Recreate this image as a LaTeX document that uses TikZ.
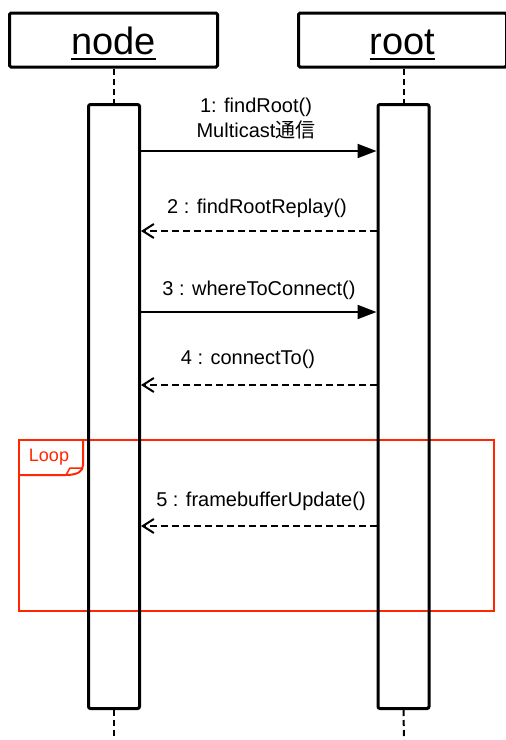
\documentclass[tikz,border=0pt]{standalone}
\usepackage{fontspec}
\setmainfont{Liberation Sans}
\newfontfamily\cjk{Noto Sans CJK JP}
\usetikzlibrary{arrows.meta}
\definecolor{loopred}{RGB}{255,38,0}
\tikzset{
  headbox/.style={draw, line width=3pt, rounded corners=1.5pt, minimum width=208pt, minimum height=54pt, inner sep=0pt},
  headtxt/.style={inner sep=0pt, font=\fontsize{38}{40}\selectfont, anchor=base},
  actbox/.style={draw, line width=3pt, rounded corners=2pt, minimum width=51pt, minimum height=604pt, inner sep=0pt},
  lifeline/.style={line width=2pt, dash pattern=on 6pt off 4pt},
  callmsg/.style={line width=2pt, -{Triangle[length=19pt,width=14pt]}},
  retmsg/.style={line width=2pt, dash pattern=on 7pt off 4pt, -{Straight Barb[length=11pt,width=14pt]}},
  lbl/.style={inner sep=0pt, font=\fontsize{20}{25}\selectfont, align=center},
  loopframe/.style={draw=loopred, line width=2pt},
}
\begin{document}
\begin{tikzpicture}[x=1pt,y=-1pt]
\useasboundingbox (0,0) rectangle (506,740);
% loop frame (behind the lifelines)
\node[loopframe, minimum width=475pt, minimum height=171pt, inner sep=0pt] (loopbox) at (256.5,525.5) {};
\coordinate (tabtr) at (83,440);
\coordinate (tabbl) at (19,475);
\draw[loopframe, line join=round] (tabtr) -- (83,465) .. controls (83,471) and (78,475) .. (66,475) -- (tabbl);
\draw[loopframe, line width=1.5pt, line join=round] (66,475) -- (70,468) -- (83,468);
\node[inner sep=0pt, text=loopred, font=\fontsize{18}{20}\selectfont] (looplbl) at (49,457) {Loop};
% headers
\node[headbox] (nodehead) at (113.5,40) {};
\node[headbox] (roothead) at (402.5,40) {};
\node[headtxt] (nodetxt) at (113.5,54) {node};
\node[headtxt] (roottxt) at (402.5,54) {root};
\draw[line width=2pt] ([yshift=-5pt]nodetxt.base west) -- ([yshift=-5pt]nodetxt.base east);
\draw[line width=2pt] ([yshift=-5pt]roottxt.base west) -- ([yshift=-5pt]roottxt.base east);
% coordinates for lifeline ends
\coordinate (nodeend) at (114,740);
\coordinate (rootend) at (404,740);
% activations
\node[actbox] (nodeact) at (114,406.5) {};
\node[actbox] (rootact) at (403.5,406.5) {};
\draw[lifeline] (nodehead.south -| nodeact.north) -- (nodeact.north);
\draw[lifeline] (roothead.south -| rootact.north) -- (rootact.north);
\draw[lifeline] (nodeact.south) -- (nodeend);
\draw[lifeline] (rootact.south) -- (rootend);
% messages
\draw[callmsg] (nodeact.east |- 0,151) -- (rootact.west |- 0,151);
\node[lbl] (m1) at (256,119) {1: findRoot()\\Multicast{\cjk 通信}};
\draw[retmsg] (rootact.west |- 0,231) -- (nodeact.east |- 0,231);
\node[lbl] (m2) at (257,208) {2 : findRootReplay()};
\draw[callmsg] (nodeact.east |- 0,312) -- (rootact.west |- 0,312);
\node[lbl] (m3) at (259,290) {3 : whereToConnect()};
\draw[retmsg] (rootact.west |- 0,385) -- (nodeact.east |- 0,385);
\node[lbl] (m4) at (248,359) {4 : connectTo()};
\draw[retmsg] (rootact.west |- 0,526) -- (nodeact.east |- 0,526);
\node[lbl] (m5) at (261,501) {5 : framebufferUpdate()};
\end{tikzpicture}
\end{document}
